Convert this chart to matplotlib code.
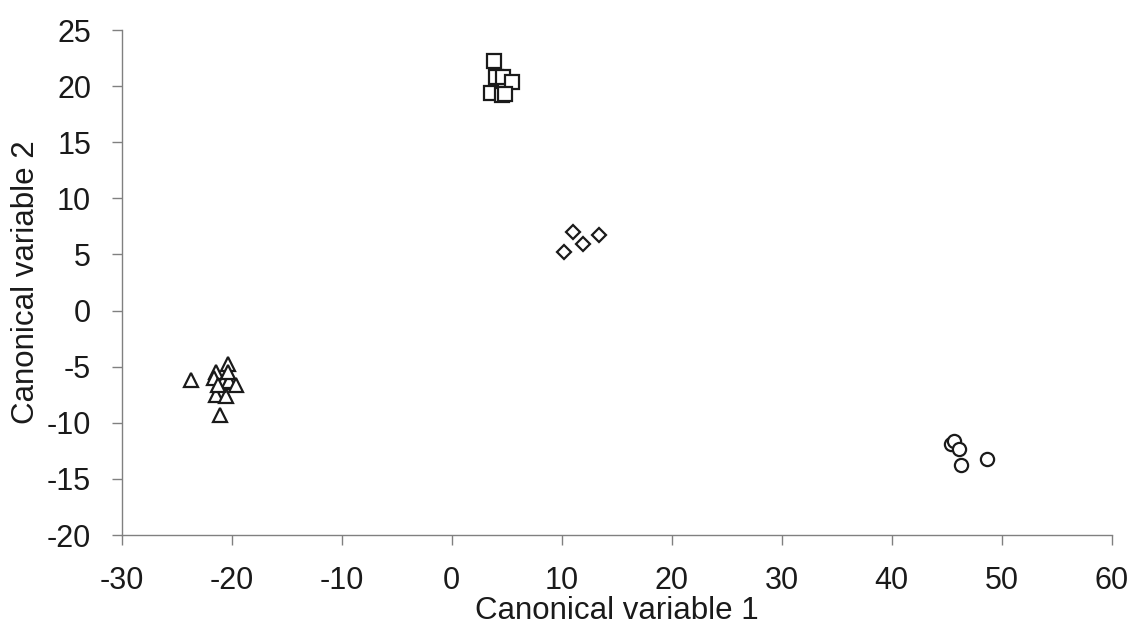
import matplotlib
matplotlib.use('Agg')
import matplotlib.pyplot as plt

plt.rcParams['font.family'] = ['Liberation Sans', 'DejaVu Sans']
plt.rcParams['axes.unicode_minus'] = False

# canonical scores per group
tri_x = [-23.7, -20.3, -21.4, -21.6, -20.8, -20.2, -19.6, -21.4, -20.5, -21.1, -21.2, -20.3]
tri_y = [-6.2, -4.8, -5.5, -6.0, -6.4, -6.3, -6.6, -7.5, -7.6, -9.3, -6.6, -5.5]

sq_x = [3.85, 4.0, 4.7, 5.45, 3.6, 4.55, 4.85]
sq_y = [22.2, 20.8, 20.8, 20.4, 19.35, 19.2, 19.3]

dia_x = [11.0, 11.9, 10.2, 13.4]
dia_y = [7.0, 5.9, 5.2, 6.7]

circ_x = [45.4, 45.7, 46.1, 46.3, 48.7]
circ_y = [-11.9, -11.6, -12.35, -13.75, -13.2]

x_ticks = list(range(-30, 61, 10))
y_ticks = list(range(-20, 26, 5))

fig = plt.figure(figsize=(11.35, 6.36), dpi=100)
ax = fig.add_axes([0.1072, 0.1588, 0.8722, 0.794])

style = dict(linestyle='none', markerfacecolor='white', markeredgecolor='#1a1a1a',
             markeredgewidth=1.6, clip_on=False)
ax.plot(tri_x, tri_y, marker='^', markersize=10, **style)
ax.plot(sq_x, sq_y, marker='s', markersize=9.5, **style)
ax.plot(dia_x, dia_y, marker='D', markersize=7.5, **style)
ax.plot(circ_x, circ_y, marker='o', markersize=9.5, **style)

ax.set_xlim(-30, 60)
ax.set_ylim(-20, 25)
ax.set_xticks(x_ticks)
ax.set_yticks(y_ticks)

for side in ['top', 'right']:
    ax.spines[side].set_visible(False)
for side in ['left', 'bottom']:
    ax.spines[side].set_color('#808080')
    ax.spines[side].set_linewidth(1.0)

ax.tick_params(direction='out', length=7, width=1, color='#808080',
               labelsize=22, labelcolor='#1a1a1a')
ax.tick_params(axis='x', pad=15.5)
ax.tick_params(axis='y', pad=15)

ax.set_xlabel('Canonical variable 1', fontsize=22.5, color='#1a1a1a', labelpad=0)
ax.set_ylabel('Canonical variable 2', fontsize=22.5, color='#1a1a1a', labelpad=4)

fig.savefig('out.png', dpi=100)
